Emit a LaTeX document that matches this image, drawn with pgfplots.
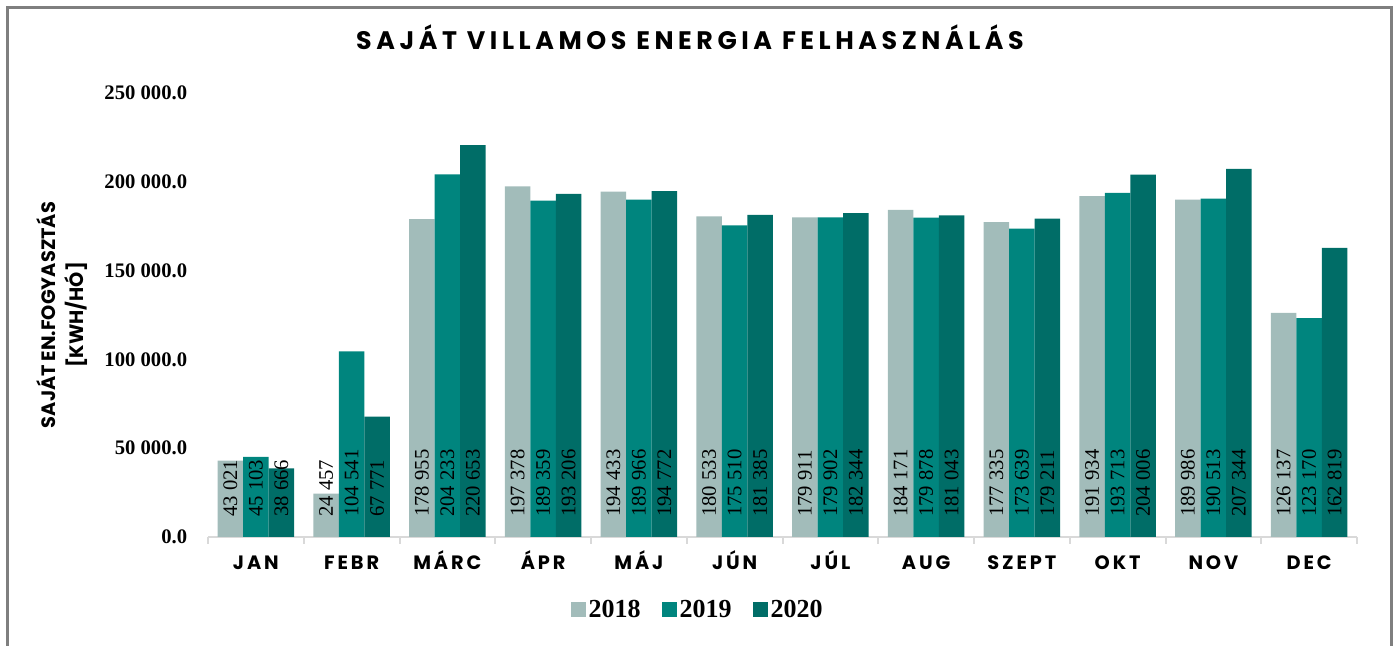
\documentclass[border=0pt]{standalone}
\usepackage{fontspec}
\usepackage{pgfplots}
\pgfplotsset{compat=1.18}
\setmainfont{Liberation Serif}
\newfontfamily\titlefont[LetterSpace=18]{Poppins}
\newfontfamily\xfont[LetterSpace=15]{Poppins}
\newfontfamily\labfont{Poppins}
\definecolor{c18}{HTML}{A2BCBA}
\definecolor{c19}{HTML}{00857E}
\definecolor{c20}{HTML}{006D67}
\definecolor{framec}{HTML}{7F7F7F}
\definecolor{axgray}{HTML}{D9D9D9}
\begin{document}
\begin{tikzpicture}[x=0.75pt,y=0.75pt]
\useasboundingbox (0,0) rectangle (1397,646);
\draw[framec, line width=2.25pt] (7,-20) -- (7,638) -- (1391,638) -- (1391,-20);
\node[font=\titlefont\bfseries\fontsize{19}{21}\selectfont, anchor=base] at (690,596) {SAJÁT VILLAMOS ENERGIA FELHASZNÁLÁS};
\begin{axis}[
  at={(156pt,81.75pt)}, anchor=south west,
  scale only axis, width=861.75pt, height=333pt,
  xmin=-0.5, xmax=11.5, ymin=0, ymax=250000,
  ybar=0pt, bar width=19.1pt,
  axis lines=left, axis line style={-},
  y axis line style={draw=none},
  x axis line style={draw=axgray, line width=1.5pt},
  clip=false,
  xtick={0,...,11},
  xticklabels={JAN,FEBR,MÁRC,ÁPR,MÁJ,JÚN,JÚL,AUG,SZEPT,OKT,NOV,DEC},
  xtick style={draw=none},
  xticklabel style={font=\xfont\bfseries\fontsize{14.5}{18}\selectfont, anchor=base, yshift=-22.5pt},
  extra x ticks={-0.5,0.5,1.5,2.5,3.5,4.5,5.5,6.5,7.5,8.5,9.5,10.5,11.5},
  extra x tick labels={},
  extra x tick style={xtick style={draw=axgray, line width=1.5pt}, major tick length=5pt, tick align=outside},
  ytick={0,50000,100000,150000,200000,250000},
  ytick style={draw=none},
  scaled y ticks=false,
  yticklabel style={font=\bfseries\fontsize{15.5}{18}\selectfont, xshift=-10pt,
    /pgf/number format/fixed, /pgf/number format/fixed zerofill, /pgf/number format/precision=1,
    /pgf/number format/1000 sep={\ }, /pgf/number format/assume math mode=true},
  ylabel={SAJÁT EN.FOGYASZTÁS\\{}[KWH/HÓ]},
  ylabel style={at={(rel axis cs:-0.127,0.5)}, anchor=center, align=center,
    font=\labfont\bfseries\fontsize{14.5}{21}\selectfont},
  nodes near coords,
  visualization depends on=y \as \rawy,
  every node near coord/.append style={shift={(axis direction cs:0,-\rawy)}, yshift=15pt, rotate=90, anchor=west,
    inner sep=0pt, text=black, font=\fontsize{15.5}{16}\selectfont,
    /pgf/number format/fixed, /pgf/number format/precision=0,
    /pgf/number format/1000 sep={\ }, /pgf/number format/assume math mode=true},
  legend columns=3,
  legend style={at={(rel axis cs:0.4265,-0.164)}, anchor=center, draw=none,
    font=\bfseries\fontsize{19.5}{20}\selectfont,
    /tikz/every even column/.append style={column sep=14pt}},
  legend image code/.code={\fill[#1,draw=none] (0pt,-5.6pt) rectangle (11.25pt,5.6pt);},
]
\addplot[fill=c18, draw=none] coordinates {(0,43021) (1,24457) (2,178955) (3,197378) (4,194433) (5,180533) (6,179911) (7,184171) (8,177335) (9,191934) (10,189986) (11,126137)};
\addplot[fill=c19, draw=none] coordinates {(0,45103) (1,104541) (2,204233) (3,189359) (4,189966) (5,175510) (6,179902) (7,179878) (8,173639) (9,193713) (10,190513) (11,123170)};
\addplot[fill=c20, draw=none] coordinates {(0,38666) (1,67771) (2,220653) (3,193206) (4,194772) (5,181385) (6,182344) (7,181043) (8,179211) (9,204006) (10,207344) (11,162819)};
\legend{2018,2019,2020}
\end{axis}
\end{tikzpicture}
\end{document}
